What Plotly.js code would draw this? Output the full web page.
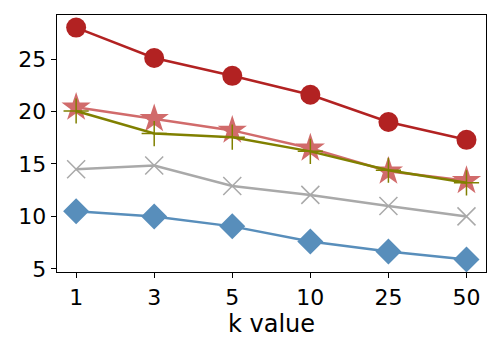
<!DOCTYPE html>
<html>
<head>
<meta charset="utf-8">
<script src="https://cdn.plot.ly/plotly-3.0.1.min.js"></script>
<style>
  html, body { margin: 0; padding: 0; background: white; }
  #chart { width: 500px; height: 350px; }
</style>
</head>
<body>
<div id="chart"></div>
<script>
// k values on the x axis
const kValues = ['1', '3', '5', '10', '25', '50'];

// series
const circleSeries = [28.0, 25.1, 23.4, 21.6, 19.0, 17.3];
const starSeries = [20.4, 19.3, 18.2, 16.5, 14.3, 13.4];
const plusSeries = [20.05, 17.9, 17.55, 16.2, 14.4, 13.2];
const crossSeries = [14.5, 14.85, 12.9, 12.05, 11.0, 10.0];
const diamondSeries = [10.5, 10.0, 9.05, 7.6, 6.65, 5.9];

function series(y, color, symbol, size, opacity, extraMarker) {
    return {
        x: kValues,
        y: y,
        type: 'scatter',
        mode: 'lines+markers',
        opacity: opacity,
        line: { color: color, width: 2.5 },
        marker: Object.assign({ symbol: symbol, size: size, color: color }, extraMarker || {}),
        showlegend: false
    };
}

const traces = [
    series(diamondSeries, '#4682b4', 'diamond', 20, 0.9),
    series(crossSeries, '#a9a9a9', 'x-thin', 18, 1, { line: { color: '#a9a9a9', width: 1.5 } }),
    series(starSeries, '#cd5c5c', 'star', 22, 0.9),
    series(plusSeries, '#808000', 'cross-thin', 18, 1, { line: { color: '#808000', width: 1.5 } }),
    series(circleSeries, '#b22222', 'circle', 20, 1)
];

const layout = {
    width: 500,
    height: 350,
    margin: { l: 57, r: 14, t: 15, b: 78 },
    paper_bgcolor: 'white',
    plot_bgcolor: 'white',
    font: { family: 'DejaVu Sans', size: 22, color: 'black' },
    xaxis: {
        type: 'category',
        range: [-0.245, 5.25],
        showline: true,
        mirror: true,
        linecolor: 'black',
        linewidth: 1.3,
        ticks: 'outside',
        ticklen: 5,
        tickcolor: 'black',
        showgrid: false,
        zeroline: false,
        title: { text: 'k value', font: { size: 24 }, standoff: 6 }
    },
    yaxis: {
        range: [4.7, 29.2],
        tickvals: [5, 10, 15, 20, 25],
        showline: true,
        mirror: true,
        linecolor: 'black',
        linewidth: 1.3,
        ticks: 'outside',
        ticklen: 5,
        tickcolor: 'black',
        showgrid: false,
        zeroline: false
    }
};

Plotly.newPlot('chart', traces, layout, { displayModeBar: false, staticPlot: true });
</script>
</body>
</html>
